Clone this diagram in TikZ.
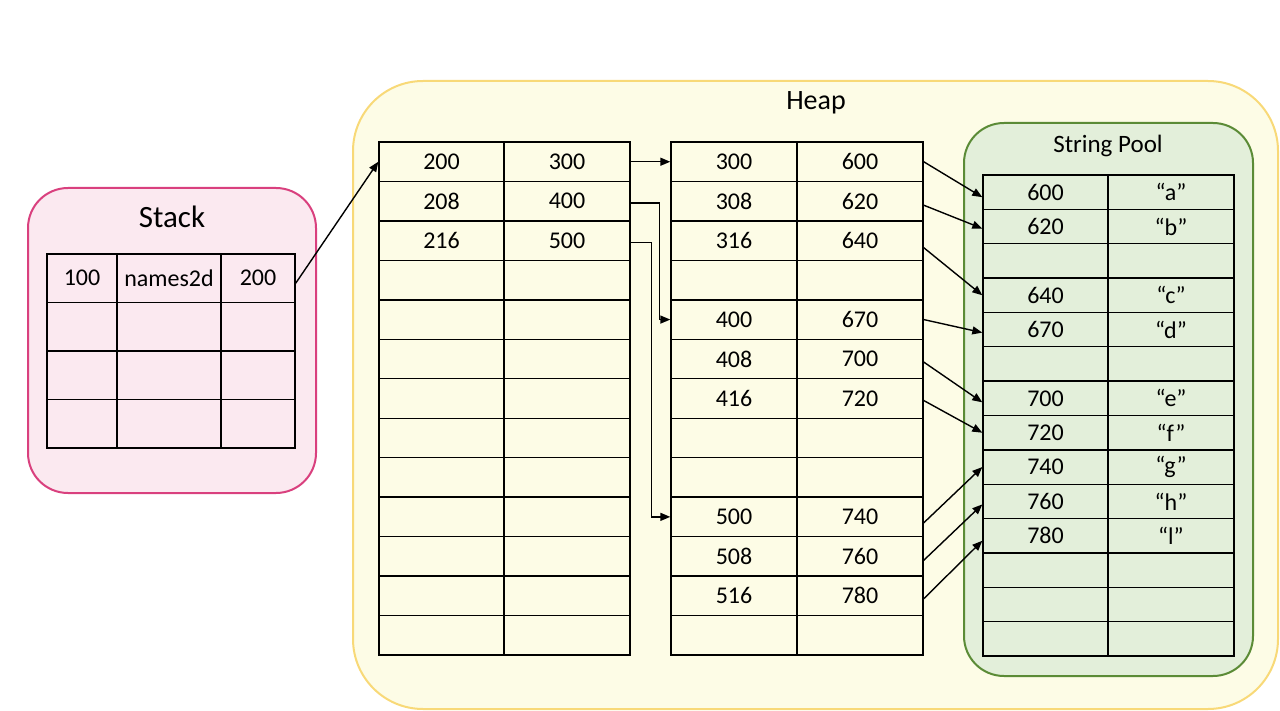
\documentclass[tikz,border=0pt]{standalone}
\usepackage{fontspec}
\setmainfont{Carlito}
\usetikzlibrary{arrows.meta}
\definecolor{stackfill}{HTML}{FBE9F0}
\definecolor{stackdraw}{HTML}{D9407E}
\definecolor{heapfill}{HTML}{FDFCE6}
\definecolor{heapdraw}{HTML}{F8D978}
\definecolor{poolfill}{HTML}{E3EFDA}
\definecolor{pooldraw}{HTML}{5B8B36}
\begin{document}
\begin{tikzpicture}[x=1pt,y=-1pt,
  cell/.style={draw=black, line width=1.4pt, inner sep=0pt, font=\fontsize{24}{24}\selectfont},
  ptr/.style={line width=1.4pt, -{Triangle[length=10pt,width=8pt]}},
  region/.style={line width=2pt}]
\useasboundingbox (0,0) rectangle (1280,711);

% Stack
\draw[region, draw=stackdraw, fill=stackfill, rounded corners=40pt] (28,188) rectangle (316,493);
\node[font=\fontsize{31}{31}\selectfont] (stacktitle) at (172,217) {Stack};
\foreach \r/\a/\b/\c in {0/100/names2d/200, 1///, 2///, 3///} {
  \node[cell, minimum width=70, minimum height=48.5] (s-\r-0) at (82, {254+(\r+0.5)*48.5}) {\a};
  \node[cell, minimum width=104, minimum height=48.5] (s-\r-1) at (169, {254+(\r+0.5)*48.5}) {\b};
  \node[cell, minimum width=74, minimum height=48.5] (s-\r-2) at (258, {254+(\r+0.5)*48.5}) {\c};
}

% Heap
\draw[region, draw=heapdraw, fill=heapfill, rounded corners=70pt] (353,81) rectangle (1278,709);
\node[font=\fontsize{28}{28}\selectfont] (heaptitle) at (816,103) {Heap};

\foreach \r/\a/\b in {0/200/300, 1/208/400, 2/216/500, 3//, 4//, 5//, 6//, 7//, 8//, 9//, 10//, 11//, 12//} {
  \node[cell, minimum width=125, minimum height=39.46] (L-\r-0) at (441.5, {142+(\r+0.5)*39.46}) {\a};
  \node[cell, minimum width=126, minimum height=39.46] (L-\r-1) at (567, {142+(\r+0.5)*39.46}) {\b};
}

\foreach \r/\a/\b in {0/300/600, 1/308/620, 2/316/640, 3//, 4/400/670, 5/408/700, 6/416/720, 7//, 8//, 9/500/740, 10/508/760, 11/516/780, 12//} {
  \node[cell, minimum width=126, minimum height=39.46] (M-\r-0) at (734, {142+(\r+0.5)*39.46}) {\a};
  \node[cell, minimum width=126, minimum height=39.46] (M-\r-1) at (860, {142+(\r+0.5)*39.46}) {\b};
}

% String pool
\draw[region, draw=pooldraw, fill=poolfill, rounded corners=40pt] (964,123) rectangle (1253,676);
\node[font=\fontsize{25}{25}\selectfont] (pooltitle) at (1108,146) {String Pool};
\foreach \r/\a/\b in {0/600/“a”, 1/620/“b”, 2//, 3/640/“c”, 4/670/“d”, 5//, 6/700/“e”, 7/720/“f”, 8/740/“g”, 9/760/“h”, 10/780/“l”, 11//, 12//, 13//} {
  \node[cell, minimum width=125, minimum height=34.36] (P-\r-0) at (1045.5, {175+(\r+0.5)*34.36}) {\a};
  \node[cell, minimum width=126, minimum height=34.36] (P-\r-1) at (1171, {175+(\r+0.5)*34.36}) {\b};
}

% pointers
\draw[ptr] ([yshift=-5pt]s-0-2.east) -- (L-0-0.west);
\draw[ptr] (L-0-1.east) -- (M-0-0.west);
\draw[ptr] ([yshift=-2pt]L-1-1.east) -- ++(29,0) |- (M-4-0.west);
\draw[ptr] ([yshift=-2pt]L-2-1.east) -- ++(21,0) |- (M-9-0.west);

\draw[ptr] (M-0-1.east) -- ([yshift=-5pt]P-0-0.west);
\draw[ptr] ([yshift=-4pt]M-1-1.east) -- ([yshift=-2pt]P-1-0.west);
\draw[ptr] ([yshift=-7pt]M-2-1.east) -- (P-3-0.west);
\draw[ptr] (M-4-1.east) -- ([yshift=-3pt]P-4-0.west);
\draw[ptr] ([yshift=-3pt]M-5-1.east) -- ([yshift=-4pt]P-6-0.west);
\draw[ptr] ([yshift=-2pt]M-6-1.east) -- (P-7-0.west);
\draw[ptr] ([yshift=-6pt]M-9-1.east) -- (P-8-0.west);
\draw[ptr] ([yshift=-4pt]M-10-1.east) -- ([yshift=-3pt]P-9-0.west);
\draw[ptr] ([yshift=-3pt]M-11-1.east) -- ([yshift=-5pt]P-10-0.west);
\end{tikzpicture}
\end{document}
